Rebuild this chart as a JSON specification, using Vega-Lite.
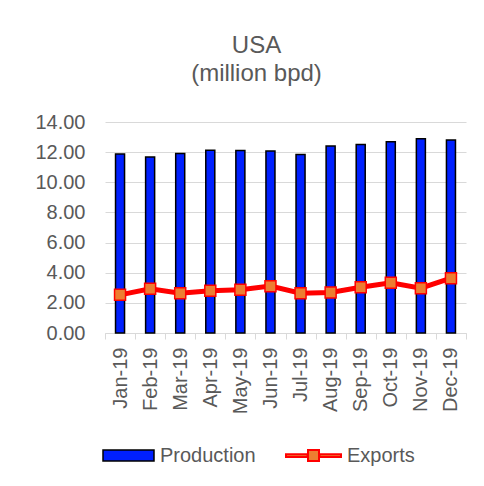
{
  "$schema": "https://vega.github.io/schema/vega-lite/v6.json",
  "width": 361,
  "height": 211,
  "autosize": {"type": "none"},
  "padding": {"left": 105, "top": 122, "right": 18, "bottom": 153},
  "background": "white",
  "config": {"view": {"stroke": null}, "font": "Liberation Sans"},
  "title": {
    "text": ["USA", "(million bpd)"],
    "fontSize": 24,
    "font": "Liberation Sans",
    "fontWeight": "normal",
    "color": "#595959",
    "anchor": "middle",
    "dx": -29,
    "offset": 26,
    "lineHeight": 28
  },
  "data": {
    "values": [
      {"month": "Jan-19", "Production": 11.87, "Exports": 2.53},
      {"month": "Feb-19", "Production": 11.67, "Exports": 2.93},
      {"month": "Mar-19", "Production": 11.91, "Exports": 2.64},
      {"month": "Apr-19", "Production": 12.13, "Exports": 2.80},
      {"month": "May-19", "Production": 12.11, "Exports": 2.87},
      {"month": "Jun-19", "Production": 12.07, "Exports": 3.11},
      {"month": "Jul-19", "Production": 11.84, "Exports": 2.64},
      {"month": "Aug-19", "Production": 12.40, "Exports": 2.69},
      {"month": "Sep-19", "Production": 12.51, "Exports": 3.04},
      {"month": "Oct-19", "Production": 12.69, "Exports": 3.33},
      {"month": "Nov-19", "Production": 12.89, "Exports": 2.97},
      {"month": "Dec-19", "Production": 12.80, "Exports": 3.64}
    ]
  },
  "encoding": {
    "x": {
      "field": "month",
      "type": "ordinal",
      "sort": null,
      "scale": {"paddingInner": 0, "paddingOuter": 0},
      "axis": {
        "title": null,
        "labelAngle": -90,
        "labelFontSize": 20,
        "labelColor": "#595959",
        "domainColor": "#D9D9D9",
        "domainWidth": 1,
        "tickColor": "#D9D9D9",
        "tickSize": 6,
        "tickBand": "extent",
        "labelPadding": 8,
        "grid": false
      }
    }
  },
  "layer": [
    {
      "mark": {"type": "bar", "width": {"band": 0.3}, "stroke": "black", "strokeWidth": 1.5},
      "encoding": {
        "y": {
          "field": "Production", "type": "quantitative",
          "scale": {"domain": [0, 14]},
          "axis": {"title": null, "values": [0, 2, 4, 6, 8, 10, 12, 14], "format": ".2f", "domain": false, "ticks": false, "labelFontSize": 20, "labelColor": "#595959", "labelPadding": 20, "gridColor": "#D9D9D9", "gridWidth": 1}
        },
        "fill": {
          "datum": "Production", "type": "nominal",
          "scale": {"domain": ["Production"], "range": ["#0020FF"]},
          "legend": {
            "title": null, "orient": "none", "legendX": -3, "legendY": 307,
            "symbolType": "M-1,-0.22H1V0.22H-1Z", "symbolSize": 2601,
            "symbolStrokeColor": "black", "symbolStrokeWidth": 1.5,
            "labelFontSize": 20, "labelColor": "#595959", "labelOffset": 5,
            "encode": {"symbols": {"update": {"fill": {"value": "#0020FF"}, "stroke": {"value": "black"}, "strokeWidth": {"value": 1.5}}}}
          }
        }
      }
    },
    {
      "mark": {"type": "line", "strokeWidth": 5},
      "encoding": {
        "y": {
          "field": "Exports", "type": "quantitative",
          "axis": {"title": null, "values": [0, 2, 4, 6, 8, 10, 12, 14], "format": ".2f", "domain": false, "ticks": false, "labelFontSize": 20, "labelColor": "#595959", "labelPadding": 20, "gridColor": "#D9D9D9", "gridWidth": 1}
        },
        "stroke": {
          "datum": "Exports", "type": "nominal",
          "scale": {"domain": ["Exports"], "range": ["#FF0000"]},
          "legend": {
            "title": null, "orient": "none", "legendX": 180, "legendY": 305,
            "symbolType": "M-1,-0.05H-0.22V0.05H-1Z M0.22,-0.05H1V0.05H0.22Z M-0.2,-0.2H0.2V0.2H-0.2Z",
            "symbolSize": 3025,
            "labelFontSize": 20, "labelColor": "#595959", "labelOffset": 5,
            "encode": {"symbols": {"update": {"fill": {"value": "#ED7D31"}, "stroke": {"value": "#FF0000"}, "strokeWidth": {"value": 2}, "opacity": {"value": 1}}}}
          }
        }
      }
    },
    {
      "mark": {"type": "point", "shape": "square", "size": 121, "filled": true, "fill": "#ED7D31", "stroke": "#FF0000", "strokeWidth": 1.5, "opacity": 1},
      "encoding": {
        "y": {
          "field": "Exports", "type": "quantitative",
          "axis": {"title": null, "values": [0, 2, 4, 6, 8, 10, 12, 14], "format": ".2f", "domain": false, "ticks": false, "labelFontSize": 20, "labelColor": "#595959", "labelPadding": 20, "gridColor": "#D9D9D9", "gridWidth": 1}
        }
      }
    }
  ]
}
